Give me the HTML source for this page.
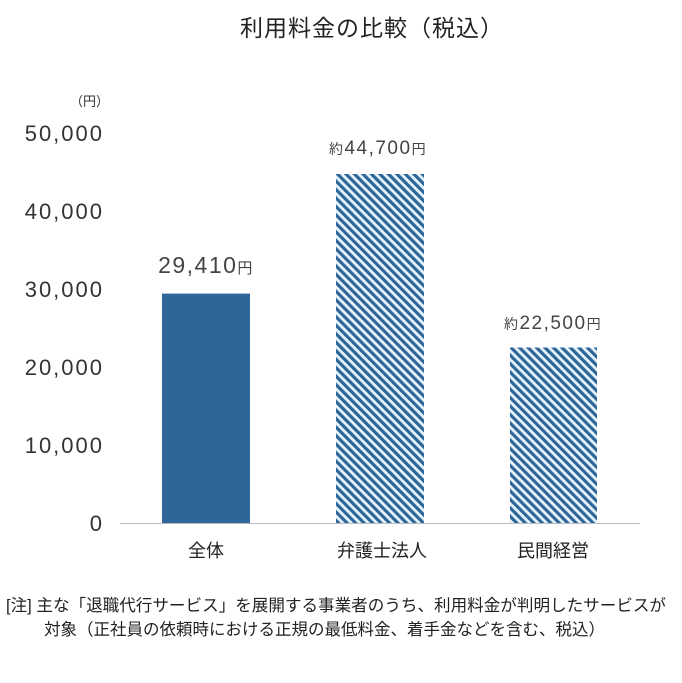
<!DOCTYPE html>
<html><head><meta charset="utf-8"><style>
body{margin:0;background:#fff;}
svg text{font-family:"Liberation Sans","Noto Sans CJK JP",sans-serif;}
</style></head><body>
<svg width="682" height="678" xmlns="http://www.w3.org/2000/svg">
<defs>
<pattern id="h" patternUnits="userSpaceOnUse" width="6" height="6" patternTransform="rotate(-45)">
<rect width="6" height="6" fill="#e8f4fb"/>
<rect width="3.2" height="6" fill="#2e6699"/>
</pattern>
</defs>
<text x="372" y="36" font-size="23" text-anchor="middle" fill="#222" letter-spacing="1">利用料金の比較（税込）</text>
<text x="70" y="106" font-size="13" fill="#333">（円）</text>
<g font-size="22" fill="#333" text-anchor="end" letter-spacing="2">
<text x="104" y="141">50,000</text>
<text x="104" y="219">40,000</text>
<text x="104" y="297">30,000</text>
<text x="104" y="375">20,000</text>
<text x="104" y="453">10,000</text>
<text x="104" y="531">0</text>
</g>
<rect x="162" y="293.6" width="88" height="229.4" fill="#2e6699"/>
<rect x="336" y="174" width="88" height="349" fill="url(#h)"/>
<rect x="510" y="347.5" width="87" height="175.5" fill="url(#h)"/>
<line x1="120" y1="523.5" x2="640" y2="523.5" stroke="#bbb" stroke-width="1"/>
<text x="206" y="273" font-size="23" text-anchor="middle" fill="#444" letter-spacing="1.5">29,410<tspan font-size="15">円</tspan></text>
<text x="378" y="154" font-size="19" text-anchor="middle" fill="#444" letter-spacing="1.5"><tspan font-size="14">約</tspan>44,700<tspan font-size="14">円</tspan></text>
<text x="553" y="329" font-size="19" text-anchor="middle" fill="#444" letter-spacing="1.5"><tspan font-size="14">約</tspan>22,500<tspan font-size="14">円</tspan></text>
<g font-size="18" fill="#222" text-anchor="middle">
<text x="206" y="557">全体</text>
<text x="382" y="557">弁護士法人</text>
<text x="553" y="557">民間経営</text>
</g>
<text x="6" y="611" font-size="16.5" fill="#222" textLength="660" lengthAdjust="spacingAndGlyphs">[注] 主な「退職代行サービス」を展開する事業者のうち、利用料金が判明したサービスが</text>
<text x="44" y="635" font-size="16.5" fill="#222">対象（正社員の依頼時における正規の最低料金、着手金などを含む、税込）</text>
</svg>
</body></html>
